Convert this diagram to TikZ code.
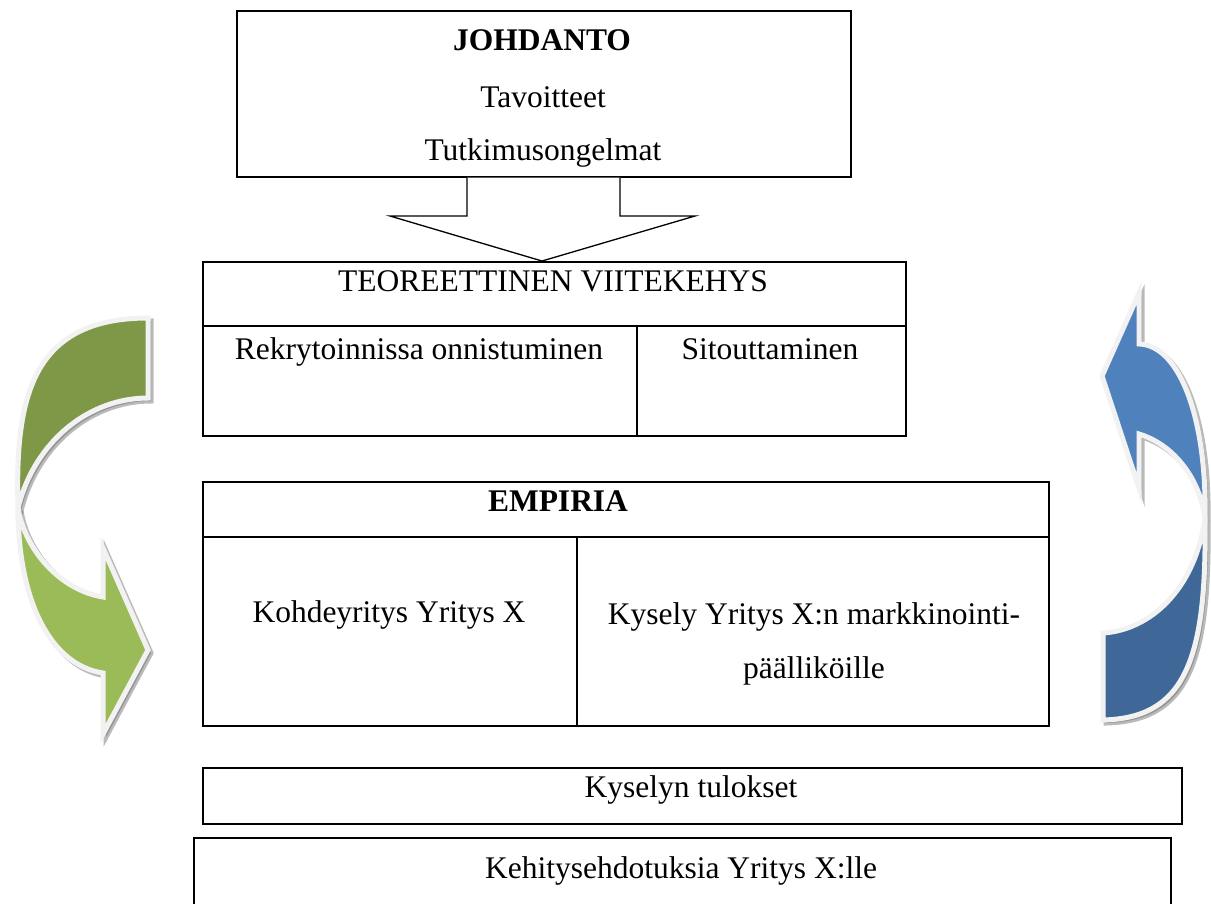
\documentclass[tikz,border=0pt]{standalone}
\usepackage{fontspec}
\setmainfont{Liberation Serif}
\definecolor{olivedark}{RGB}{127,152,72}
\definecolor{olivelight}{RGB}{155,187,89}
\definecolor{bluelight}{RGB}{79,129,189}
\definecolor{bluedark}{RGB}{63,103,151}
\definecolor{rim}{RGB}{242,242,242}
\tikzset{
  box/.style={draw=black, line width=1.6pt, inner sep=0pt, anchor=north west},
  txt/.style={font=\fontsize{31.5}{38}\selectfont, anchor=base, inner sep=0pt},
  btxt/.style={txt, font=\fontsize{31.5}{38}\selectfont\bfseries},
  divider/.style={draw=black, line width=1.6pt},
  blockarrow/.style={draw=black, line width=1.3pt, fill=white, line join=miter},
  rimmed/.style={draw=rim, line width=5pt, line join=miter},
  shade/.style={fill=black!60, draw=black!60, line width=5pt, opacity=0.45}
}
\begin{document}
\begin{tikzpicture}[x=1pt, y=-1pt]
\useasboundingbox (0,0) rectangle (1211,903);

% ---------- left curved arrow ----------
\def\leftdark{(148,318) -- (148,398) .. controls (90,398) and (35,440) .. (18,508) .. controls (15,400) and (30,318) .. (148,318) -- cycle}
\def\leftlight{(18,508) .. controls (18,600) and (50,665) .. (103,673) -- (103,734) -- (148,650) -- (103,548) -- (103,597) .. controls (60,590) and (25,550) .. (18,508) -- cycle}
\begin{scope}[shift={(3,3)}]
  \path[shade] \leftdark;
  \path[shade] \leftlight;
\end{scope}
\path[rimmed, fill=olivedark] \leftdark;
\path[rimmed, fill=olivelight] \leftlight;

% ---------- right curved arrow ----------
\def\rightdark{(1205,518) .. controls (1207,660) and (1185,718) .. (1103,720) -- (1103,633) .. controls (1150,630) and (1195,590) .. (1205,518) -- cycle}
\def\rightlight{(1205,518) .. controls (1207,420) and (1180,345) .. (1139,344) -- (1139,293) -- (1102,376) -- (1139,488) -- (1139,434) .. controls (1175,445) and (1200,480) .. (1205,518) -- cycle}
\begin{scope}[shift={(3,3)}]
  \path[shade] \rightdark;
  \path[shade] \rightlight;
\end{scope}
\path[rimmed, fill=bluedark] \rightdark;
\path[rimmed, fill=bluelight] \rightlight;

% ---------- JOHDANTO ----------
\node[box, minimum width=614pt, minimum height=166pt] (joh) at (236,10) {};
\node[btxt] (johT) at (542,50) {JOHDANTO};
\node[txt] (tav) at (543,107) {Tavoitteet};
\node[txt] (tut) at (543,160) {Tutkimusongelmat};

% ---------- TEOREETTINEN VIITEKEHYS ----------
\node[box, minimum width=703pt, minimum height=174pt] (teo) at (202,261) {};
\draw[divider] (teo.west |- 0,326) -- (teo.east |- 0,326);
\draw[divider] (637,326) -- (teo.south -| 637,0);
\node[txt] (teoT) at (553,291) {TEOREETTINEN VIITEKEHYS};
\node[txt] (rek) at (419,359) {Rekrytoinnissa onnistuminen};
\node[txt] (sit) at (770,359) {Sitouttaminen};

% ---------- block arrow JOHDANTO -> TEOREETTINEN ----------
\coordinate (tip) at (teo.north -| 542,0);
\draw[blockarrow] (joh.south -| 467,0) -- (467,216) -- (390,216) -- (tip) -- (695,216) -- (620,216) -- (joh.south -| 620,0);

% ---------- EMPIRIA ----------
\node[box, minimum width=846pt, minimum height=244pt] (emp) at (202,481) {};
\draw[divider] (emp.west |- 0,537) -- (emp.east |- 0,537);
\draw[divider] (577,537) -- (emp.south -| 577,0);
\node[btxt] (empT) at (558,511) {EMPIRIA};
\node[txt] (koh) at (389,622) {Kohdeyritys Yritys X};
\node[txt] (kys1) at (814,624) {Kysely Yritys X:n markkinointi-};
\node[txt] (kys2) at (814,678) {päälliköille};

% ---------- Kyselyn tulokset ----------
\node[box, minimum width=979pt, minimum height=56pt] (tul) at (202,767) {};
\node[txt] (tulT) at (691,797) {Kyselyn tulokset};

% ---------- Kehitysehdotuksia ----------
\node[box, minimum width=977pt, minimum height=90pt] (keh) at (193,837) {};
\node[txt] (kehT) at (681,878) {Kehitysehdotuksia Yritys X:lle};
\end{tikzpicture}
\end{document}
